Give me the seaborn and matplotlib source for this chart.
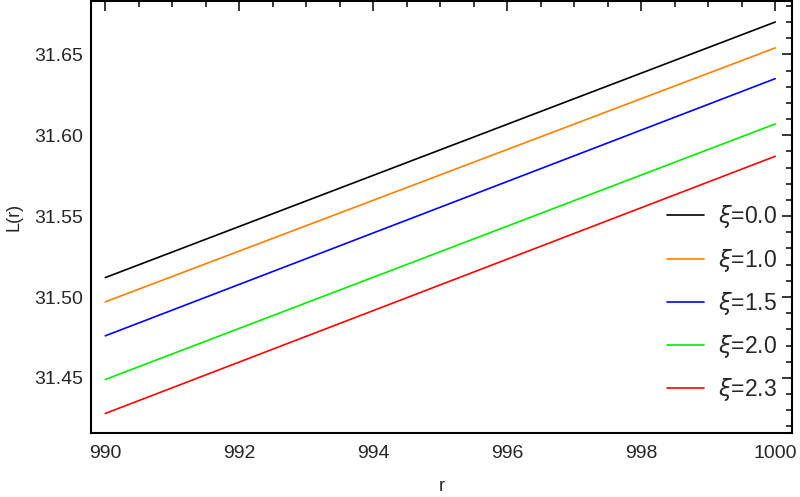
import pandas as pd
import matplotlib.pyplot as plt
import seaborn as sns
import numpy as np
from matplotlib.ticker import MultipleLocator

# endpoints of each straight line
r_vals = [990, 1000]
xi_labels = ['0.0', '1.0', '1.5', '2.0', '2.3']
L_start = [31.512, 31.497, 31.476, 31.449, 31.428]
L_end = [31.670, 31.654, 31.635, 31.607, 31.587]
colors = ['black', '#ff8000', '#0000ff', '#00ee00', '#ff0000']

rows = []
for lab, a, b in zip(xi_labels, L_start, L_end):
    rows.append({'r': r_vals[0], 'L': a, 'xi': r'$\xi$=' + lab})
    rows.append({'r': r_vals[1], 'L': b, 'xi': r'$\xi$=' + lab})
df = pd.DataFrame(rows)

sns.set_style('white')
plt.rcParams['font.family'] = ['Liberation Sans', 'DejaVu Sans']

fig = plt.figure(figsize=(8, 4.97), dpi=100)
ax = fig.add_axes([0.114, 0.129, 0.876, 0.869])

sns.lineplot(data=df, x='r', y='L', hue='xi', palette=colors, linewidth=1.2, ax=ax)

ax.set_xlim(989.79, 1000.25)
ax.set_ylim(31.416, 31.683)
ax.xaxis.set_major_locator(MultipleLocator(2))
ax.xaxis.set_minor_locator(MultipleLocator(0.5))
ax.yaxis.set_major_locator(MultipleLocator(0.05))
ax.yaxis.set_minor_locator(MultipleLocator(0.01))
ax.yaxis.set_major_formatter(plt.FormatStrFormatter('%.2f'))
ax.tick_params(which='both', direction='in', top=True, right=True, labelsize=14, width=1.3)
ax.tick_params(which='major', length=7)
ax.tick_params(which='minor', length=4)
ax.tick_params(axis='x', which='major', pad=9)
ax.tick_params(axis='y', which='major', pad=6)
for s in ax.spines.values():
    s.set_color('black')
    s.set_linewidth(1.5)

ax.set_xlabel('r', fontsize=13, labelpad=11)
ax.set_ylabel('L(r)', fontsize=13, labelpad=8)

leg = ax.legend(title=None, frameon=False, fontsize=16.5, loc='center right',
                bbox_to_anchor=(0.998, 0.30), borderaxespad=0.2,
                handlelength=1.6, handletextpad=0.6, labelspacing=0.71)

fig.savefig('out.png', dpi=100)
